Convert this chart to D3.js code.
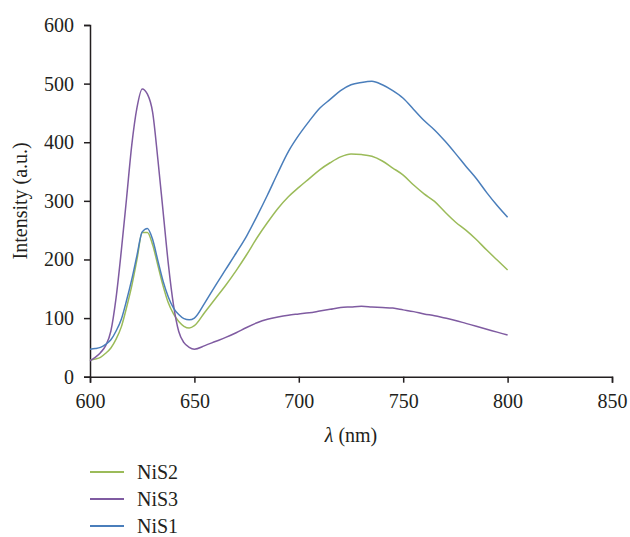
<!DOCTYPE html>
<html>
<head>
<meta charset="utf-8">
<script src="https://cdn.jsdelivr.net/npm/d3@7"></script>
<style>
  body { margin: 0; background: #fff; }
  text { font-family: "Liberation Serif", "DejaVu Serif", serif; fill: #231f20; }
</style>
</head>
<body>
<svg id="chart" width="630" height="537"></svg>
<script>
// wavelength grid (nm), finer around the ~626 nm peak
const wavelength = [600, 602.5, 605, 607.5, 610, 612.5, 615, 617.5, 620, 622.5, 625, 627.5, 630, 632.5, 635, 637.5, 640, 642.5, 645, 647.5, 650,
  655, 660, 665, 670, 675, 680, 685, 690, 695, 700, 705, 710, 715, 720, 725, 730, 735, 740, 745, 750,
  755, 760, 765, 770, 775, 780, 785, 790, 795, 800];

const nis2 = [28, 30, 33, 40, 49, 64, 85, 118, 155, 200, 246, 246, 225, 190, 155, 126, 107, 94, 86, 83, 87,
  110, 133, 156, 181, 208, 237, 263, 287, 307, 323, 338, 353, 365, 375, 380, 379, 376, 368, 356, 344,
  327, 312, 299, 281, 264, 250, 234, 216, 199, 182];

const nis3 = [27, 33, 41, 53, 78, 135, 215, 304, 395, 459, 491, 482, 451, 371, 282, 193, 122, 77, 58, 50, 47,
  53, 60, 67, 75, 84, 92, 98, 102, 105, 107, 109, 112, 115, 118, 119, 120, 119, 118, 117, 114,
  111, 107, 104, 100, 96, 91, 86, 81, 76, 71];

const nis1 = [47, 48, 50, 55, 63, 78, 98, 130, 166, 207, 247, 253, 234, 198, 163, 136, 117, 106, 99, 97, 100,
  126, 155, 183, 211, 240, 274, 310, 348, 384, 412, 436, 458, 473, 488, 498, 502, 504, 498, 488, 475,
  456, 437, 421, 402, 381, 359, 338, 314, 292, 272];

const seriesNames = ["NiS2", "NiS3", "NiS1"];
const seriesColors = ["#9bbb59", "#7f5ba1", "#4a7ebb"];
const xTicks = [600, 650, 700, 750, 800, 850];
const yTicks = [0, 100, 200, 300, 400, 500, 600];

const svg = d3.select("#chart");

const x = d3.scaleLinear().domain([600, 850]).range([90, 612]);
const y = d3.scaleLinear().domain([0, 600]).range([376.7, 25]);

const axisColor = "#231f20";
const fontSize = "20px";

// x axis
const xAxis = svg.append("g")
  .attr("transform", `translate(0,${y(0)})`)
  .call(d3.axisBottom(x).tickValues(xTicks).tickSize(6).tickPadding(8).tickFormat(d3.format("d")));
xAxis.selectAll("text").style("font-size", fontSize).attr("dy", "0.85em");

// y axis
const yAxis = svg.append("g")
  .attr("transform", `translate(${x(600)},0)`)
  .call(d3.axisLeft(y).tickValues(yTicks).tickSize(6).tickPadding(10).tickFormat(d3.format("d")));
yAxis.selectAll("text").style("font-size", fontSize);

[xAxis, yAxis].forEach(a => {
  a.select(".domain").attr("stroke", axisColor).attr("stroke-width", 1.5);
  a.selectAll(".tick line").attr("stroke", axisColor).attr("stroke-width", 1.5);
  a.selectAll("text").attr("font-family", null).style("fill", axisColor);
});

// axis titles
svg.append("text")
  .attr("transform", `translate(27,${(y(0) + y(600)) / 2}) rotate(-90)`)
  .attr("text-anchor", "middle")
  .style("font-size", fontSize)
  .text("Intensity (a.u.)");

const xt = svg.append("text")
  .attr("x", (x(600) + x(850)) / 2)
  .attr("y", 442)
  .attr("text-anchor", "middle")
  .style("font-size", fontSize);
xt.append("tspan").style("font-style", "italic").text("λ");
xt.append("tspan").text(" (nm)");

// lines
const allSeries = [nis2, nis3, nis1];
const line = d3.line()
  .x((d, i) => x(wavelength[i]))
  .y(d => y(d))
  .curve(d3.curveMonotoneX);

svg.append("g").selectAll("path")
  .data(allSeries)
  .join("path")
  .attr("d", d => line(d))
  .attr("fill", "none")
  .attr("stroke", (d, i) => seriesColors[i])
  .attr("stroke-width", 1.5);

// legend
const legend = svg.append("g").selectAll("g")
  .data(seriesNames)
  .join("g")
  .attr("transform", (d, i) => `translate(90,${472 + i * 27})`);

legend.append("line")
  .attr("x1", 0).attr("x2", 34)
  .attr("stroke", (d, i) => seriesColors[i])
  .attr("stroke-width", 2);

legend.append("text")
  .attr("x", 47)
  .attr("dy", "0.35em")
  .style("font-size", fontSize)
  .text(d => d);
</script>
</body>
</html>
